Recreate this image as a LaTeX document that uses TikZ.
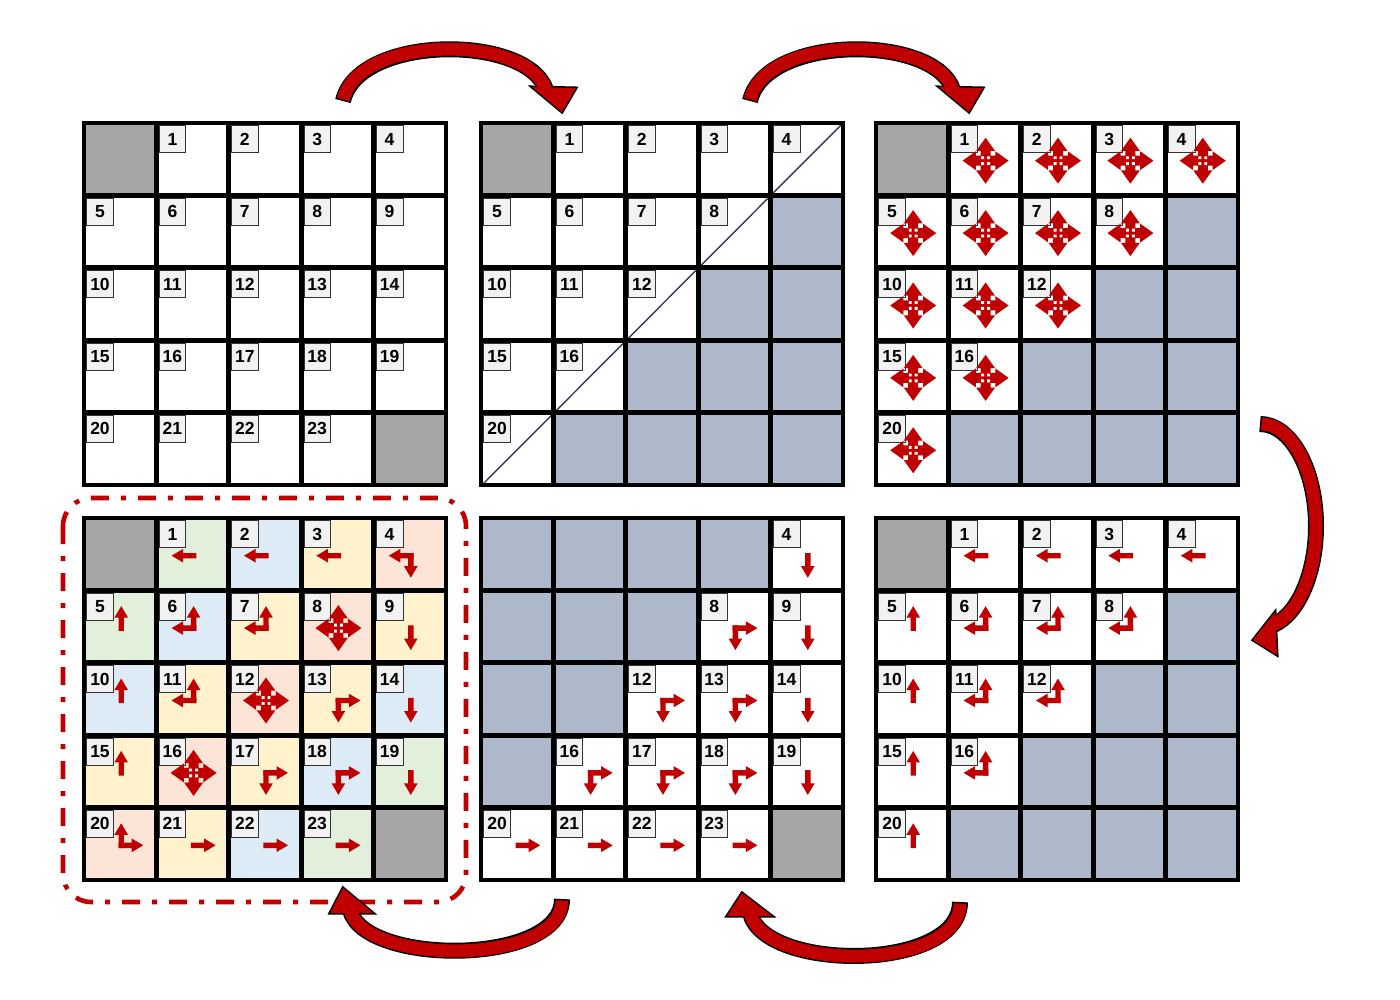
\documentclass[tikz,border=0pt]{standalone}
\usepackage{fontspec}
\setmainfont{Liberation Sans}
\definecolor{arrred}{HTML}{C00000}
\definecolor{cellgray}{HTML}{A6A6A6}
\definecolor{cellblue}{HTML}{ADB9CA}
\definecolor{pgreen}{HTML}{E2EFDA}
\definecolor{pblue}{HTML}{DDEBF7}
\definecolor{pyellow}{HTML}{FFF2CC}
\definecolor{ppink}{HTML}{FCE4D6}
\definecolor{labfill}{HTML}{F2F2F2}
\definecolor{diagcol}{HTML}{2F3B4F}
\tikzset{
  labbox/.style={draw=black!80, line width=0.7pt, fill=labfill, minimum width=26.5pt, minimum height=27pt, inner sep=0pt, anchor=north west, font=\bfseries\fontsize{17.5pt}{17.5pt}\selectfont},
  gridline/.style={draw=black, line width=4.8pt, line join=miter},
  diagline/.style={draw=diagcol, line width=1.4pt},
  framestyle/.style={draw=arrred, line width=4.6pt, dash pattern=on 18pt off 12pt on 5pt off 12pt, rounded corners=28pt},
}
\newcommand\cellfill[4]{%
  \pgfmathsetmacro\cfx{#1+mod(#3,5)*72.4}%
  \pgfmathsetmacro\cfy{#2+floor(#3/5)*72.4}%
  \fill[#4] (\cfx,\cfy) rectangle ++(72.4,72.4);}
\newcommand\celllabel[4]{%
  \pgfmathsetmacro\clx{#2+mod(#4,5)*72.4+2.4}%
  \pgfmathsetmacro\cly{#3+floor(#4/5)*72.4+2.4}%
  \node[labbox] (#1-#4) at (\clx,\cly) {#4};}
\newcommand\gridlines[2]{%
  \foreach \k in {1,...,4}{%
    \draw[gridline] ({#1+\k*72.4},#2) -- ++(0,362);
    \draw[gridline] (#1,{#2+\k*72.4}) -- ++(362,0);}
  \draw[gridline] (#1,#2) rectangle ++(362,362);}
\newcommand\anyarrows[8]{%
  \pgfmathsetmacro\cax{#1+(mod(#3,5)+0.5)*72.4+1}%
  \pgfmathsetmacro\cay{#2+(floor(#3/5)+0.5)*72.4+1.5}%
  \foreach \ang in {#4}{\fill[arrred,shift={(\cax,\cay)},rotate=\ang] (-#5,-#5) -- (#6,-#5) -- (#6,-#7) -- (#8,0) -- (#6,#7) -- (#6,#5) -- (-#5,#5) -- cycle;}}
\newcommand\sarrows[4]{\anyarrows{#1}{#2}{#3}{#4}{2.7}{10.5}{6.8}{22}}
\newcommand\barrows[3]{\anyarrows{#1}{#2}{#3}{0,90,180,270}{5}{9.8}{9.4}{23}%
  \fill[white,shift={(\cax,\cay)}] (-4.4,-4.4) rectangle (-1.5,-1.5) (1.5,-4.4) rectangle (4.4,-1.5) (-4.4,1.5) rectangle (-1.5,4.4) (1.5,1.5) rectangle (4.4,4.4);}
\newcommand\bigarrow[2]{%
  \draw[black, line width=16pt] #1;
  \filldraw[fill=arrred, draw=black, line width=3pt, line join=miter] #2 -- cycle;
  \draw[arrred, line width=13pt, shorten <=1.5pt] #1;
  \fill[arrred] #2 -- cycle;}
\begin{document}
\begin{tikzpicture}[x=1pt,y=-1pt]
\useasboundingbox (0,0) rectangle (1400,1000);
\fill[white] (0,0) rectangle (1400,1000);

% dash-dot frame around the result grid
\draw[framestyle] (63,498) rectangle (466,902);

% ---------- Grid 1 ----------
\cellfill{84}{123}{0}{cellgray}
\cellfill{84}{123}{24}{cellgray}
\foreach \i in {1,...,23} {\celllabel{ga}{84}{123}{\i}}
\gridlines{84}{123}

% ---------- Grid 2 ----------
\cellfill{481}{123}{0}{cellgray}
\foreach \i in {9,13,14,17,18,19,21,22,23,24} {\cellfill{481}{123}{\i}{cellblue}}
\draw[diagline] (481,486) -- (843,123);
\foreach \i in {1,...,8,10,11,12,15,16,20} {\celllabel{gb}{481}{123}{\i}}
\gridlines{481}{123}

% ---------- Grid 3 ----------
\cellfill{876}{123}{0}{cellgray}
\foreach \i in {9,13,14,17,18,19,21,22,23,24} {\cellfill{876}{123}{\i}{cellblue}}
\foreach \i in {1,...,8,10,11,12,15,16,20} {\celllabel{gc}{876}{123}{\i}}
\foreach \i in {1,...,8,10,11,12,15,16,20} {\barrows{876}{123}{\i}}
\gridlines{876}{123}

% ---------- Grid 4 (result) ----------
\cellfill{84}{518}{0}{cellgray}
\cellfill{84}{518}{24}{cellgray}
\foreach \i in {1,5,19,23} {\cellfill{84}{518}{\i}{pgreen}}
\foreach \i in {2,6,10,14,18,22} {\cellfill{84}{518}{\i}{pblue}}
\foreach \i in {3,7,9,11,13,15,17,21} {\cellfill{84}{518}{\i}{pyellow}}
\foreach \i in {4,8,12,16,20} {\cellfill{84}{518}{\i}{ppink}}
\foreach \i in {1,...,23} {\celllabel{gd}{84}{518}{\i}}
\foreach \i in {1,2,3} {\sarrows{84}{518}{\i}{180}}
\sarrows{84}{518}{4}{180,270}
\foreach \i in {5,10,15} {\sarrows{84}{518}{\i}{90}}
\foreach \i in {6,7,11} {\sarrows{84}{518}{\i}{90,180}}
\foreach \i in {8,12,16} {\barrows{84}{518}{\i}}
\foreach \i in {9,14,19} {\sarrows{84}{518}{\i}{270}}
\foreach \i in {13,17,18} {\sarrows{84}{518}{\i}{270,0}}
\sarrows{84}{518}{20}{90,0}
\foreach \i in {21,22,23} {\sarrows{84}{518}{\i}{0}}
\gridlines{84}{518}

% ---------- Grid 5 ----------
\foreach \i in {0,1,2,3,5,6,7,10,11,15} {\cellfill{481}{518}{\i}{cellblue}}
\cellfill{481}{518}{24}{cellgray}
\foreach \i in {4,8,9,12,13,14,16,17,18,19,20,21,22,23} {\celllabel{ge}{481}{518}{\i}}
\foreach \i in {4,9,14,19} {\sarrows{481}{518}{\i}{270}}
\foreach \i in {20,21,22,23} {\sarrows{481}{518}{\i}{0}}
\foreach \i in {8,12,13,16,17,18} {\sarrows{481}{518}{\i}{270,0}}
\gridlines{481}{518}

% ---------- Grid 6 ----------
\cellfill{876}{518}{0}{cellgray}
\foreach \i in {9,13,14,17,18,19,21,22,23,24} {\cellfill{876}{518}{\i}{cellblue}}
\foreach \i in {1,...,8,10,11,12,15,16,20} {\celllabel{gf}{876}{518}{\i}}
\foreach \i in {1,2,3,4} {\sarrows{876}{518}{\i}{180}}
\foreach \i in {5,10,15,20} {\sarrows{876}{518}{\i}{90}}
\foreach \i in {6,7,8,11,12,16} {\sarrows{876}{518}{\i}{90,180}}
\gridlines{876}{518}

% ---------- curved arrows ----------
\bigarrow{(343,101) .. controls (358,34) and (528,34) .. (546,90)}{(532,87) -- (562,112) -- (576,88)}
\bigarrow{(750,101) .. controls (765,34) and (935,34) .. (953,90)}{(939,87) -- (969,112) -- (983,88)}
\bigarrow{(1260,424) arc[start angle=-90, end angle=76, x radius=56, y radius=102]}{(1275,612) -- (1253,640) -- (1277,655)}
\bigarrow{(960,902) .. controls (960,972) and (764,972) .. (750,913)}{(727,916) -- (742,893) -- (772,916)}
\bigarrow{(562,899) .. controls (562,966) and (364,966) .. (350,910)}{(330,913) -- (343,888) -- (373,913)}
\end{tikzpicture}
\end{document}
